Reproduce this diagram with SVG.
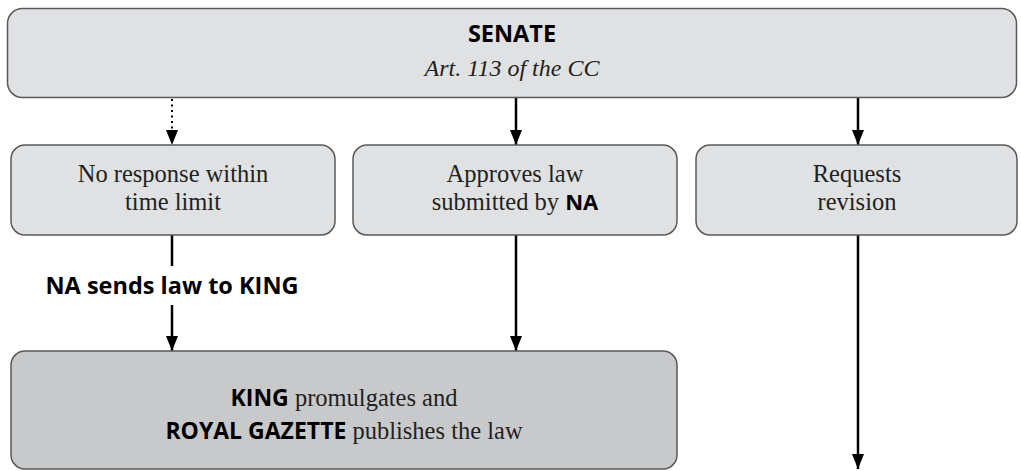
<svg xmlns="http://www.w3.org/2000/svg" width="1021" height="471" viewBox="0 0 1021 471">
  <defs>
    <style>
      .box { fill: #e0e1e2; stroke: #58595b; stroke-width: 1.5; }
      .box-dark { fill: #c8c9cb; stroke: #58595b; stroke-width: 1.5; }
      .line { stroke: #000; stroke-width: 2.5; fill: none; }
      .dotted { stroke: #000; stroke-width: 2; stroke-dasharray: 2 3.5; fill: none; }
      .serif { font-family: "Liberation Serif", "DejaVu Serif", serif; font-size: 24.5px; fill: #231f20; }
      .italic { font-family: "Liberation Serif", serif; font-style: italic; font-size: 24px; fill: #231f20; }
      .bold { font-family: "Open Sans", "Liberation Sans", sans-serif; font-weight: bold; fill: #000; }
    </style>
    <marker id="arrow" viewBox="0 -6 15 12" refX="15" refY="0" markerWidth="15" markerHeight="12" markerUnits="userSpaceOnUse" orient="auto">
      <path d="M0,-6 L15,0 L0,6 z" fill="#000"/>
    </marker>
  </defs>

  <!-- Connectors -->
  <g id="connectors">
    <line class="dotted" x1="172" y1="99" x2="172" y2="131"/>
    <path d="M166,130 L178,130 L172,145 z" fill="#000"/>
    <line class="line" x1="516" y1="98" x2="516" y2="145" marker-end="url(#arrow)"/>
    <line class="line" x1="858" y1="98" x2="858" y2="145" marker-end="url(#arrow)"/>
    <line class="line" x1="172" y1="235" x2="172" y2="266"/>
    <line class="line" x1="172" y1="305" x2="172" y2="351" marker-end="url(#arrow)"/>
    <line class="line" x1="516" y1="235" x2="516" y2="351" marker-end="url(#arrow)"/>
    <line class="line" x1="858" y1="235" x2="858" y2="469" marker-end="url(#arrow)"/>
    <text class="bold" x="172" y="294" font-size="23.5" text-anchor="middle">NA sends law to KING</text>
  </g>

  <!-- Senate -->
  <g id="senate">
    <rect class="box" x="7.5" y="8.5" width="1009" height="89" rx="15"/>
    <text class="bold" x="512" y="42" font-size="23.5" text-anchor="middle">SENATE</text>
    <text class="italic" x="512" y="76" text-anchor="middle">Art. 113 of the CC</text>
  </g>

  <!-- No response -->
  <g id="no-response">
    <rect class="box" x="11" y="145" width="324" height="90" rx="14"/>
    <text class="serif" x="173" y="182" text-anchor="middle">No response within</text>
    <text class="serif" x="173" y="210" text-anchor="middle">time limit</text>
  </g>

  <!-- Approves -->
  <g id="approves">
    <rect class="box" x="353" y="145" width="324" height="90" rx="14"/>
    <text class="serif" x="515" y="182" text-anchor="middle">Approves law</text>
    <text class="serif" x="515" y="210" text-anchor="middle">submitted by <tspan class="bold" font-size="22">NA</tspan></text>
  </g>

  <!-- Requests revision -->
  <g id="requests">
    <rect class="box" x="696" y="145" width="321" height="90" rx="14"/>
    <text class="serif" x="857" y="182" text-anchor="middle">Requests</text>
    <text class="serif" x="857" y="210" text-anchor="middle">revision</text>
  </g>

  <!-- King -->
  <g id="king">
    <rect class="box-dark" x="11" y="351" width="666" height="118" rx="14"/>
    <text class="serif" x="344" y="406" text-anchor="middle"><tspan class="bold" font-size="23">KING</tspan> promulgates and</text>
    <text class="serif" x="344" y="439" text-anchor="middle"><tspan class="bold" font-size="23">ROYAL GAZETTE</tspan> publishes the law</text>
  </g>
</svg>
